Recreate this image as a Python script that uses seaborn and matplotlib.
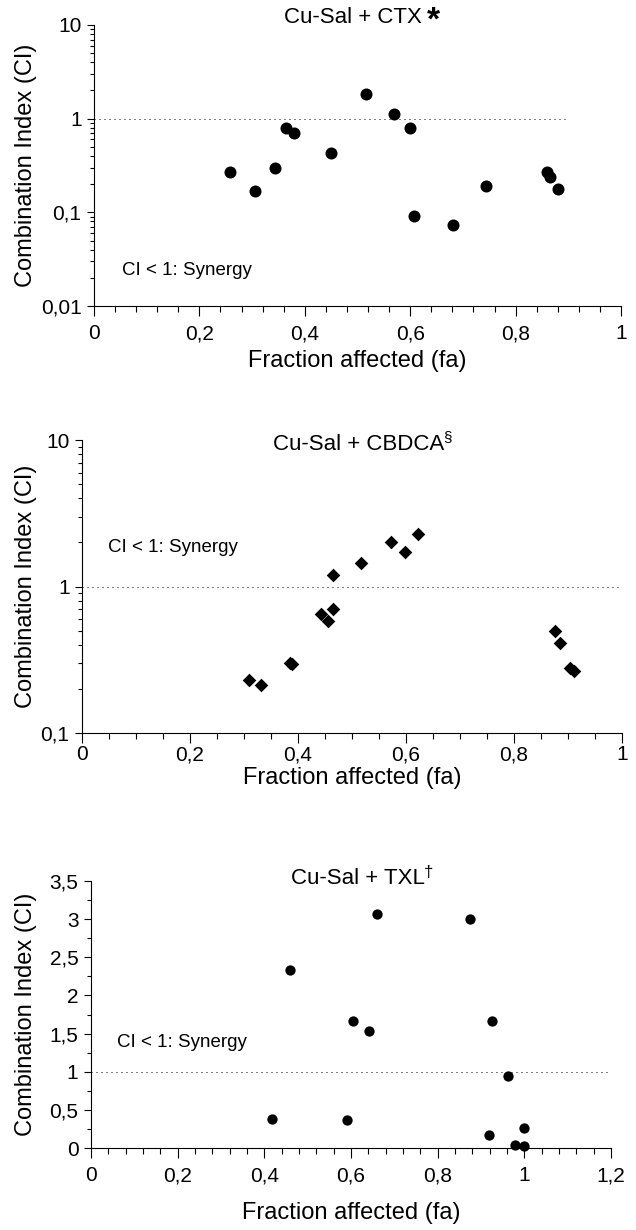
import numpy as np
import pandas as pd
import matplotlib
matplotlib.use("Agg")
import matplotlib.pyplot as plt
import seaborn as sns
from matplotlib.ticker import FuncFormatter, MultipleLocator, LogLocator, NullFormatter

# ---------------- data ----------------
# Panel 1: Cu-Sal + CTX
ctx_fa = [0.258, 0.306, 0.344, 0.365, 0.380, 0.449, 0.516, 0.570, 0.599, 0.607,
          0.682, 0.743, 0.859, 0.866, 0.880]
ctx_ci = [0.27, 0.17, 0.30, 0.80, 0.70, 0.43, 1.83, 1.12, 0.80, 0.091,
          0.074, 0.193, 0.27, 0.238, 0.179]

# Panel 2: Cu-Sal + CBDCA
cbdca_fa = [0.309, 0.331, 0.385, 0.389, 0.443, 0.456, 0.464, 0.464, 0.517, 0.572,
            0.599, 0.623, 0.875, 0.885, 0.904, 0.911]
cbdca_ci = [0.231, 0.214, 0.300, 0.295, 0.648, 0.577, 0.704, 1.20, 1.44, 2.01,
            1.73, 2.27, 0.496, 0.411, 0.277, 0.267]

# Panel 3: Cu-Sal + TXL
txl_fa = [0.417, 0.460, 0.591, 0.604, 0.641, 0.661, 0.874, 0.918, 0.926, 0.962,
          0.979, 1.000, 1.000]
txl_ci = [0.38, 2.33, 0.37, 1.66, 1.53, 3.07, 3.00, 0.17, 1.67, 0.94,
          0.04, 0.26, 0.03]

titles = ["Cu-Sal + CTX", "Cu-Sal + CBDCA", "Cu-Sal + TXL"]
title_marks = ["*", "§", "†"]
xlabel = "Fraction affected (fa)"
ylabel = "Combination Index (CI)"
synergy_text = "CI < 1: Synergy"

# ---------------- style ----------------
sns.set_theme(style="ticks")
plt.rcParams["font.family"] = ["Liberation Sans", "DejaVu Sans"]
plt.rcParams["axes.linewidth"] = 0.8
plt.rcParams["xtick.major.width"] = 0.8
plt.rcParams["ytick.major.width"] = 0.8
plt.rcParams["xtick.minor.width"] = 0.8
plt.rcParams["ytick.minor.width"] = 0.8

W, H = 636, 1230
fig = plt.figure(figsize=(W / 100, H / 100), dpi=100)


def px_axes(left, right, top, bottom):
    return fig.add_axes([left / W, 1 - bottom / H, (right - left) / W, (bottom - top) / H])


def comma(v, pos):
    s = f"{v:g}"
    return s.replace(".", ",")


TICK_FS = 15
LABEL_FS = 17
TITLE_FS = 16
TEXT_FS = 13.5


def style_axes(ax, xpad=6, labelpad=5):
    sns.despine(ax=ax)
    for sp in ("left", "bottom"):
        ax.spines[sp].set_color("black")
    ax.tick_params(axis="x", which="major", length=7, direction="out", labelsize=TICK_FS, pad=xpad, colors="black")
    ax.tick_params(axis="x", which="minor", length=4.5, direction="out", colors="black")
    ax.tick_params(axis="y", which="major", length=5, direction="out", labelsize=TICK_FS, pad=4, colors="black")
    ax.tick_params(axis="y", which="minor", length=3, direction="out", colors="black")
    ax.xaxis.set_major_formatter(FuncFormatter(comma))
    ax.yaxis.set_major_formatter(FuncFormatter(comma))
    ax.set_ylabel("")
    ax.set_xlabel(xlabel, fontsize=LABEL_FS, labelpad=labelpad, color="black")


axes_px = [(94, 621, 25, 306), (82, 622, 440, 733), (91, 611, 881, 1148)]
title_base = [23, 450, 884]
title_cx = 362

# Panel 1
ax1 = px_axes(*axes_px[0])
df1 = pd.DataFrame({"fa": ctx_fa, "ci": ctx_ci})
sns.scatterplot(data=df1, x="fa", y="ci", ax=ax1, marker="o", s=75, color="black",
                edgecolor="black", linewidth=0, zorder=3)
ax1.set_yscale("log")
ax1.set_xlim(0, 1)
ax1.set_ylim(0.01, 10)
ax1.xaxis.set_major_locator(MultipleLocator(0.2))
ax1.xaxis.set_minor_locator(MultipleLocator(0.04))
ax1.yaxis.set_major_locator(LogLocator(base=10, numticks=10))
ax1.yaxis.set_minor_locator(LogLocator(base=10, subs=np.arange(2, 10), numticks=20))
ax1.yaxis.set_minor_formatter(NullFormatter())
ax1.plot([0, 0.9], [1, 1], color="black", lw=0.72, ls=(0, (1, 4)), zorder=1)
style_axes(ax1, xpad=6, labelpad=5)
ax1.text(0.053, 0.0242, synergy_text, fontsize=TEXT_FS, ha="left", va="center", color="black")

# Panel 2
ax2 = px_axes(*axes_px[1])
df2 = pd.DataFrame({"fa": cbdca_fa, "ci": cbdca_ci})
sns.scatterplot(data=df2, x="fa", y="ci", ax=ax2, marker="D", s=48, color="black",
                edgecolor="black", linewidth=0, zorder=3)
ax2.set_yscale("log")
ax2.set_xlim(0, 1)
ax2.set_ylim(0.1, 10)
ax2.xaxis.set_major_locator(MultipleLocator(0.2))
ax2.xaxis.set_minor_locator(MultipleLocator(0.05))
ax2.yaxis.set_major_locator(LogLocator(base=10, numticks=10))
ax2.yaxis.set_minor_locator(LogLocator(base=10, subs=np.arange(2, 10), numticks=20))
ax2.yaxis.set_minor_formatter(NullFormatter())
ax2.plot([0, 1.0], [1, 1], color="black", lw=0.72, ls=(0, (1, 4)), zorder=1)
style_axes(ax2, xpad=2, labelpad=2)
ax2.text(0.048, 1.86, synergy_text, fontsize=TEXT_FS, ha="left", va="center", color="black")

# Panel 3
ax3 = px_axes(*axes_px[2])
df3 = pd.DataFrame({"fa": txl_fa, "ci": txl_ci})
sns.scatterplot(data=df3, x="fa", y="ci", ax=ax3, marker="o", s=55, color="black",
                edgecolor="black", linewidth=0, zorder=3, clip_on=False)
ax3.set_xlim(0, 1.2)
ax3.set_ylim(0, 3.5)
ax3.xaxis.set_major_locator(MultipleLocator(0.2))
ax3.xaxis.set_minor_locator(MultipleLocator(0.04))
ax3.yaxis.set_major_locator(MultipleLocator(0.5))
ax3.yaxis.set_minor_locator(MultipleLocator(0.25))
ax3.plot([0, 1.19], [1, 1], color="black", lw=0.72, ls=(0, (1, 4)), zorder=1)
style_axes(ax3, xpad=6, labelpad=12)
ax3.text(0.06, 1.38, synergy_text, fontsize=TEXT_FS, ha="left", va="center", color="black")

# y labels (figure text, centered on each axes)
for (l, r, t, b) in axes_px:
    fig.text(26 / W, 1 - ((t + b) / 2) / H, ylabel, rotation=90, ha="center", va="center",
             fontsize=LABEL_FS, color="black")

# titles with superscript marks
fig.canvas.draw()
renderer = fig.canvas.get_renderer()
sup_specs = [dict(fontsize=24, fontweight="bold", raise_px=-7, gap=4),
             dict(fontsize=11, fontweight="normal", raise_px=9, gap=-1),
             dict(fontsize=12, fontweight="normal", raise_px=7, gap=-1)]
for i in range(3):
    main = fig.text(0, 1 - title_base[i] / H, titles[i], fontsize=TITLE_FS, ha="left",
                    va="baseline", color="black")
    spec = sup_specs[i]
    sup = fig.text(0, 1 - (title_base[i] - spec["raise_px"]) / H, title_marks[i],
                   fontsize=spec["fontsize"], fontweight=spec["fontweight"], ha="left",
                   va="baseline", color="black")
    wm = main.get_window_extent(renderer).width
    ws = sup.get_window_extent(renderer).width
    left = title_cx - (wm + ws + spec["gap"]) / 2
    main.set_x(left / W)
    sup.set_x((left + wm + spec["gap"]) / W)

fig.savefig("out.png", dpi=100)
